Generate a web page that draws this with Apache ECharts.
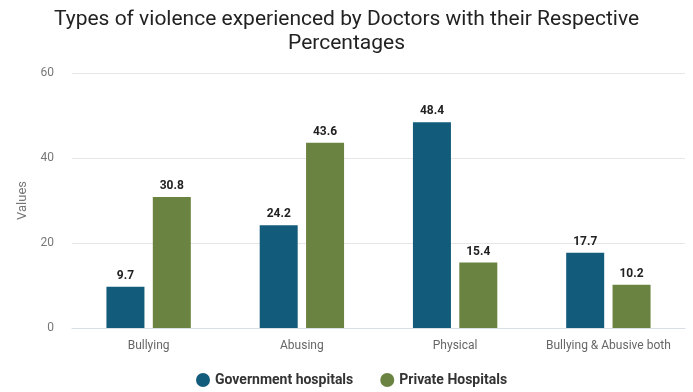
<!DOCTYPE html>
<html><head><meta charset="utf-8">
<script src="https://cdn.jsdelivr.net/npm/echarts@6/dist/echarts.min.js"></script>
<style>html,body{margin:0;padding:0;background:#fff}#c{width:693px;height:392px}</style>
</head><body><div id="c"></div>
<script>
const categories = ['Bullying', 'Abusing', 'Physical', 'Bullying & Abusive both'];
const government = [9.7, 24.2, 48.4, 17.7];
const privateH = [30.8, 43.6, 15.4, 10.2];
const yTicks = [0, 20, 40, 60];

const chart = echarts.init(document.getElementById('c'));
const lbl = {show: true, position: 'top', fontFamily: 'Roboto', fontWeight: 'bold', fontSize: 12, color: '#222', distance: 5};
chart.setOption({
  animation: false,
  title: {
    text: 'Types of violence experienced by Doctors with their Respective\nPercentages',
    left: 'center', top: 3,
    textStyle: {fontFamily: 'Roboto', fontWeight: 'normal', fontSize: 21, color: '#222', lineHeight: 24}
  },
  legend: {
    bottom: 0, left: 191, itemGap: 27,
    icon: 'circle', itemWidth: 14, itemHeight: 14,
    textStyle: {fontFamily: 'Roboto', fontWeight: 'bold', fontSize: 14, color: '#333'}
  },
  grid: {left: 72, right: 8, top: 73, bottom: 64},
  xAxis: {
    type: 'category', data: categories,
    axisTick: {show: false},
    axisLine: {lineStyle: {color: '#d8dde6'}},
    axisLabel: {fontFamily: 'Roboto', fontSize: 12, color: '#666', margin: 12, interval: 0}
  },
  yAxis: {
    type: 'value', min: yTicks[0], max: yTicks[yTicks.length - 1], interval: 20,
    name: 'Values', nameLocation: 'middle', nameGap: 41,
    nameTextStyle: {fontFamily: 'Roboto', fontSize: 13, color: '#777'},
    axisLabel: {fontFamily: 'Roboto', fontSize: 12, color: '#777', margin: 18},
    splitLine: {lineStyle: {color: '#e6e6e6'}}
  },
  series: [
    {name: 'Government hospitals', type: 'bar', data: government, barWidth: 38, barGap: '22%',
     itemStyle: {color: '#135b7b'}, label: lbl},
    {name: 'Private Hospitals', type: 'bar', data: privateH, barWidth: 38, barGap: '22%',
     itemStyle: {color: '#6a8341'}, label: lbl}
  ]
});
</script></body></html>
